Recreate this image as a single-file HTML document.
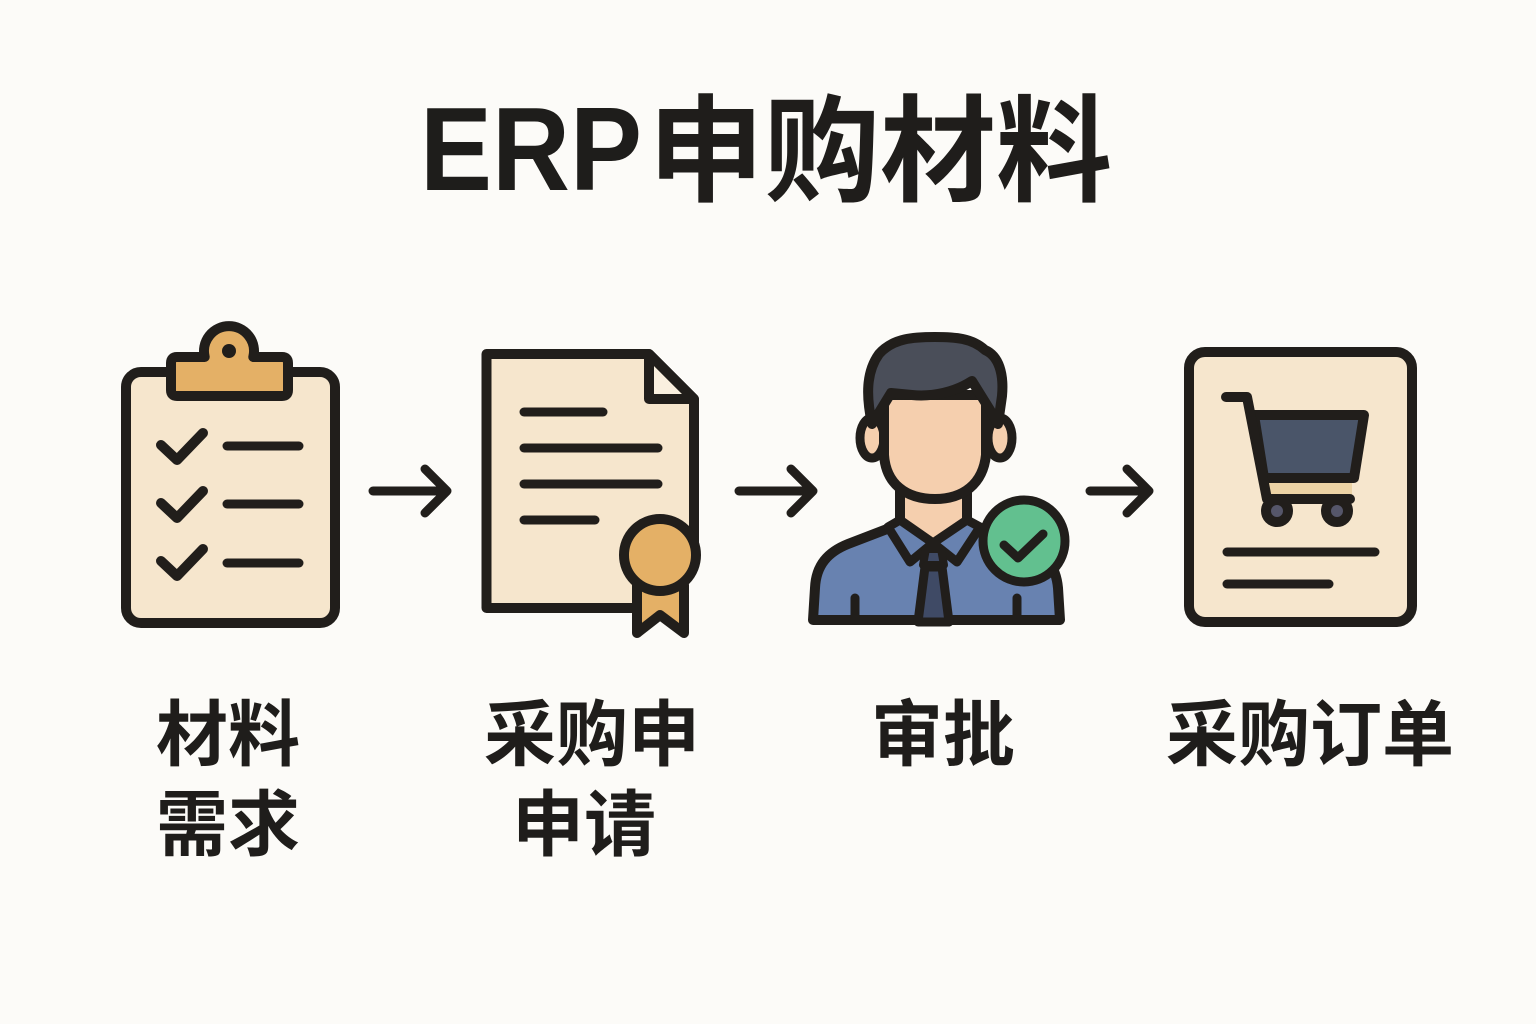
<!DOCTYPE html>
<html>
<head>
<meta charset="utf-8">
<style>
  html, body { margin: 0; padding: 0; background: #fcfbf8; }
  body { width: 1536px; height: 1024px; overflow: hidden; }
  svg { display: block; }
  .cjk { font-family: "Liberation Sans", "Noto Sans CJK SC", sans-serif; font-weight: 700; fill: #1f1d1b; }
</style>
</head>
<body>
<svg width="1536" height="1024" viewBox="0 0 1536 1024" xmlns="http://www.w3.org/2000/svg">
  <rect width="1536" height="1024" fill="#fcfbf8"/>

  <!-- Title -->
  <text x="420" y="190" font-family="Liberation Sans, sans-serif" font-weight="700" font-size="119" fill="#1e1d1b" textLength="222" lengthAdjust="spacingAndGlyphs">ERP</text>
  <text x="648" y="192" class="cjk" font-size="116">申购材料</text>

  <g stroke="#211e1b" stroke-linecap="round" stroke-linejoin="round">
    <!-- Clipboard -->
    <rect x="126" y="372" width="209" height="251" rx="15" fill="#f6e6cd" stroke-width="10"/>
    <path d="M204.7,357 A25,25 0 1 1 253.3,357 L282,357 Q288,357 288,363 L288,390 Q288,396 282,396 L177,396 Q171,396 171,390 L171,363 Q171,357 177,357 Z" fill="#e4b066" stroke-width="10"/>
    <circle cx="229" cy="351" r="7" fill="#211e1b" stroke="none"/>
    <g fill="none" stroke-width="10">
      <polyline points="161,445 177,460 203,433"/>
      <polyline points="161,503 177,518 203,491"/>
      <polyline points="161,561 177,576 203,549"/>
    </g>
    <g stroke-width="9">
      <line x1="227" y1="446" x2="299" y2="446"/>
      <line x1="227" y1="504" x2="299" y2="504"/>
      <line x1="227" y1="563" x2="299" y2="563"/>
    </g>

    <!-- Arrows -->
    <g fill="none" stroke-width="9">
      <path d="M373,491 H446 M425,469 L447,491 L425,513"/>
      <path d="M739,491 H812 M791,469 L813,491 L791,513"/>
      <path d="M1090,491 H1148 M1127,469 L1149,491 L1127,513"/>
    </g>

    <!-- Document -->
    <path d="M486.5,354 L649,354 L694,399 L694,560 L640,608 L486.5,608 Z" fill="#f6e6cd" stroke-width="10"/>
    <path d="M649,354 L649,399 L694,399 Z" fill="#faf0df" stroke-width="10"/>
    <g stroke-width="9">
      <line x1="524" y1="412" x2="603" y2="412"/>
      <line x1="524" y1="448" x2="658" y2="448"/>
      <line x1="524" y1="484" x2="658" y2="484"/>
      <line x1="524" y1="520" x2="595" y2="520"/>
    </g>
    <path d="M637,585 L637,633 L660,615 L684,633 L684,585 Z" fill="#e4b066" stroke-width="10"/>
    <circle cx="660" cy="555" r="36" fill="#e4b066" stroke-width="10"/>

    <!-- Person -->
    <path d="M813,620 L815,588 C816,565 828,552 848,544 L895,526 L975,526 L1022,543 C1045,552 1056,566 1058,588 L1060,620 Z" fill="#6882b0" stroke-width="10"/>
    <path d="M900,485 L900,526 L933,544 L967,526 L967,485 Z" fill="#f5cfae" stroke-width="10"/>
    <path d="M888,527 L910,562 L933,543 L900,520 Z" fill="#6882b0" stroke-width="9"/>
    <path d="M933,543 L957,562 L980,527 L967,520 Z" fill="#6882b0" stroke-width="9"/>
    <path d="M926,549 L941,549 L944,565 L923,565 Z" fill="#3f4a65" stroke-width="8"/>
    <path d="M925,567 L942,567 L949,622 L918,622 Z" fill="#3f4a65" stroke-width="9"/>
    <line x1="855" y1="598" x2="855" y2="620" stroke-width="9"/>
    <line x1="1017" y1="598" x2="1017" y2="620" stroke-width="9"/>
    <ellipse cx="872" cy="438" rx="12" ry="20" fill="#f5cfae" stroke-width="9"/>
    <ellipse cx="1000" cy="438" rx="12" ry="20" fill="#f5cfae" stroke-width="9"/>
    <path d="M884,395 L884,455 C886,484 906,499 935,499 C963,499 983,484 986,455 L986,395 Z" fill="#f5cfae" stroke-width="10"/>
    <path d="M872,424 C866,396 866,372 879,354 C893,338 914,337 935,337 C955,337 972,338 985,350 C999,356 1004,374 1002,396 L998,424 L990,410 L972,381 C955,392 933,397 912,395 L891,393 Z" fill="#4a4e59" stroke-width="10"/>
    <circle cx="1024" cy="541" r="41" fill="#62c08f" stroke-width="9"/>
    <polyline points="1004,545 1018,558 1043,534" fill="none" stroke-width="9"/>

    <!-- Cart card -->
    <rect x="1189" y="352" width="223" height="270" rx="16" fill="#f6e6cd" stroke-width="10"/>
    <rect x="1266" y="482" width="86" height="14" fill="#ecd3a5" stroke="none"/>
    <polygon points="1254,415 1364,415 1354,478 1264,478" fill="#4a5569" stroke-width="10"/>
    <polyline points="1226,397 1247,397 1267,499 1350,499" fill="none" stroke-width="10"/>
    <circle cx="1277" cy="511" r="11" fill="#55566a" stroke-width="10"/>
    <circle cx="1337" cy="511" r="11" fill="#55566a" stroke-width="10"/>
    <g stroke-width="9">
      <line x1="1227" y1="552" x2="1375" y2="552"/>
      <line x1="1227" y1="584" x2="1329" y2="584"/>
    </g>
  </g>

  <!-- Labels -->
  <g class="cjk" font-size="72" text-anchor="middle">
    <text x="228" y="760">材料</text>
    <text x="228" y="850">需求</text>
    <text x="592" y="760">采购申</text>
    <text x="584" y="850">申请</text>
    <text x="943" y="760">审批</text>
    <text x="1310" y="760">采购订单</text>
  </g>
</svg>
</body>
</html>
